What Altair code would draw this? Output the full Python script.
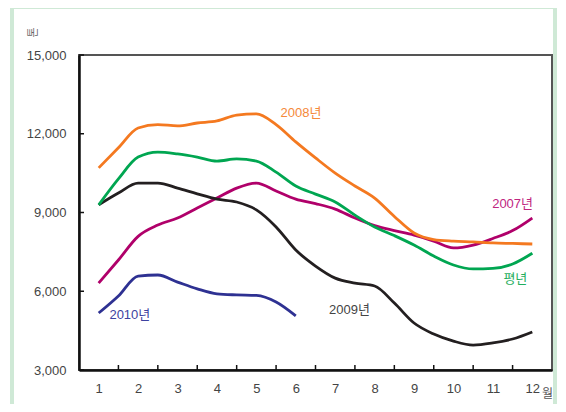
import altair as alt
import pandas as pd

# ---- data ----
months = [1, 1.5, 2, 2.5, 3, 3.5, 4, 4.5, 5, 5.5, 6, 6.5, 7, 7.5, 8, 8.5, 9, 9.5, 10, 10.5, 11, 11.5, 12]

v2007 = [6310, 7190, 8090, 8520, 8790, 9170, 9550, 9930, 10120, 9820, 9510, 9340, 9130, 8790, 8500, 8310, 8140, 7910, 7650, 7760, 8010, 8310, 8790]
v2008 = [10700, 11470, 12220, 12350, 12300, 12410, 12490, 12710, 12760, 12350, 11690, 11080, 10500, 10010, 9550, 8850, 8220, 7970, 7910, 7880, 7840, 7820, 7800]
v2009 = [9290, 9740, 10120, 10120, 9930, 9710, 9510, 9400, 9100, 8450, 7570, 6960, 6500, 6310, 6200, 5550, 4790, 4370, 4100, 3950, 4030, 4180, 4450]
v2010 = [5170, 5820, 6580, 6620, 6350, 6090, 5900, 5860, 5840, 5590, 5060]
v_avg = [9290, 10280, 11110, 11300, 11230, 11110, 10960, 11040, 10960, 10540, 10010, 9700, 9400, 8900, 8450, 8120, 7760, 7340, 7000, 6850, 6870, 7040, 7450]

series_names = ["2007년", "2008년", "2009년", "2010년", "평년"]
series_values = [v2007, v2008, v2009, v2010, v_avg]
line_colors = ["#b0006a", "#f47920", "#231f20", "#2e3192", "#00a651"]
label_colors = ["#c0267f", "#f5893a", "#444444", "#3d42a0", "#1fae5e"]

label_month = [11.5, 6.13, 7.36, 1.79, 11.57]
label_value = [9320, 12790, 5290, 5100, 6470]

y_ticks = [3000, 6000, 9000, 12000, 15000]
x_labels = list(range(1, 13))
x_minor = [1.5, 2.5, 3.5, 4.5, 5.5, 6.5, 7.5, 8.5, 9.5, 10.5, 11.5]

rows = []
for name, vals in zip(series_names, series_values):
    for m, v in zip(months, vals):
        rows.append({"series": name, "month": m, "value": v})
df = pd.DataFrame(rows)

lab_df = pd.DataFrame({"series": series_names, "month": label_month, "value": label_value})

FONT = "Liberation Sans, Noto Sans CJK KR, sans-serif"

x_scale = alt.Scale(domain=[0.5, 12.5], nice=False, zero=False)
y_scale = alt.Scale(domain=[3000, 15000], nice=False, zero=False)

x_axis = alt.Axis(values=x_labels, labelExpr="format(datum.value, 'd')", grid=False, ticks=False, tickSize=0,
                  domainColor="#111111", domainWidth=2.5, labelPadding=12,
                  labelFontSize=13, labelColor="#444444", labelFont=FONT,
                  title="월", titleX=468, titleY=23, titleAngle=0, titleAlign="center",
                  titleBaseline="middle", titleFontSize=12, titleFontWeight="normal",
                  titleColor="#555555", titleFont=FONT)
y_axis = alt.Axis(values=y_ticks, labelExpr="format(datum.value, ',')", grid=False, ticks=False, tickSize=0,
                  domainColor="#111111", domainWidth=2.5, labelPadding=13,
                  labelFontSize=13, labelColor="#444444", labelFont=FONT,
                  title="톤", titleX=-46, titleY=-23, titleAngle=270, titleAlign="center",
                  titleBaseline="middle", titleFontSize=11, titleFontWeight="normal",
                  titleColor="#666666", titleFont=FONT)

X = alt.X("month:Q", scale=x_scale, axis=x_axis)
Y = alt.Y("value:Q", scale=y_scale, axis=y_axis)

frame = alt.Chart(pd.DataFrame({"month": [1], "value": [3000]})).mark_rect(
    fillOpacity=0, stroke="#cfe9d6", strokeWidth=4
).encode(x=alt.value(-67), x2=alt.value(476), y=alt.value(-48), y2=alt.value(362))

lines = alt.Chart(df).mark_line(interpolate="monotone", strokeWidth=2.8).encode(
    x=X, y=Y,
    color=alt.Color("series:N", scale=alt.Scale(domain=series_names, range=line_colors), legend=None),
)

ytick = alt.Chart(pd.DataFrame({"value": y_ticks})).mark_rule(color="#111111", strokeWidth=1.5).encode(
    y=Y, x=alt.value(0), x2=alt.value(5)
)
xtick = alt.Chart(pd.DataFrame({"month": x_minor})).mark_rule(color="#111111", strokeWidth=1.5).encode(
    x=X, y=alt.value(310), y2=alt.value(315)
)

labels = alt.Chart(lab_df).mark_text(fontSize=13, font=FONT).encode(
    x=X, y=Y, text="series:N",
    color=alt.Color("series:N", scale=alt.Scale(domain=series_names, range=label_colors), legend=None),
)

chart = alt.layer(frame, lines, ytick, xtick, labels).resolve_scale(color="independent").properties(
    width=473, height=315,
    autosize=alt.AutoSizeParams(type="none"),
    padding={"left": 71, "top": 47, "right": 6, "bottom": 34},
).configure_view(stroke="#555555", strokeWidth=2)

chart.save("out.html", embed_options={"renderer": "svg", "actions": False})
